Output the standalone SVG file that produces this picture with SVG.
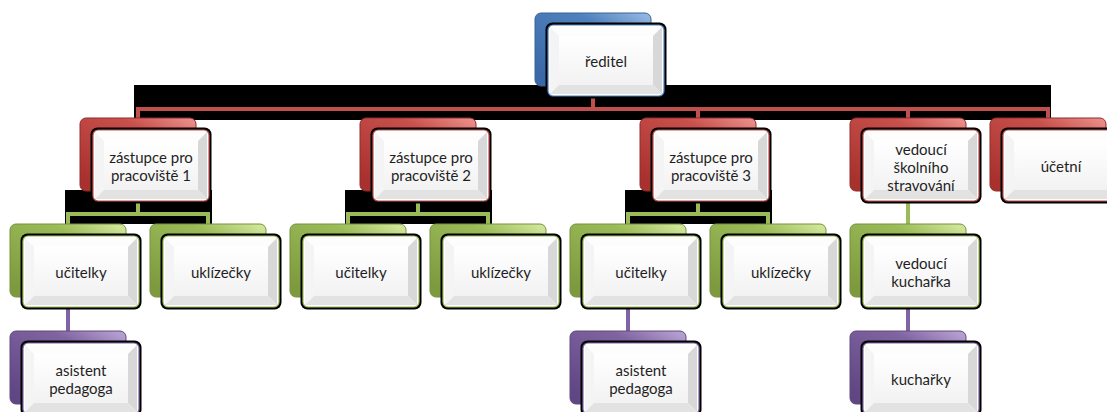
<svg xmlns="http://www.w3.org/2000/svg" xmlns:xlink="http://www.w3.org/1999/xlink" width="1107" height="412" viewBox="0 0 1107 412">
<style>
text{font-family:Lato,"Liberation Sans",sans-serif;font-size:15px;fill:#1f1f1f;text-anchor:middle}
.conn{fill:none;stroke-width:4;stroke-linejoin:miter}
.red-l{stroke:#c0504d}
.green-l{stroke:#9bbb59}
.purple-l{stroke:#8064a2}
.shade{fill:#000}
.back{stroke-width:1}
.b-blue{fill:url(#gBlue);stroke:#3a6296}
.b-red{fill:url(#gRed);stroke:#8f2e2b}
.b-green{fill:url(#gGreen);stroke:#76923c}
.b-purple{fill:url(#gPurple);stroke:#5f4a7a}
</style>
<defs>
<linearGradient id="gBlue" x1="0.1" y1="0.9" x2="0.9" y2="0"><stop offset="0" stop-color="#3a69a6"/><stop offset="0.7" stop-color="#4f81bd"/><stop offset="1" stop-color="#8fb4e0"/></linearGradient>
<linearGradient id="gRed" x1="0.1" y1="0.9" x2="0.9" y2="0"><stop offset="0" stop-color="#a8312e"/><stop offset="0.7" stop-color="#c8504c"/><stop offset="1" stop-color="#e88a86"/></linearGradient>
<linearGradient id="gGreen" x1="0.1" y1="0.9" x2="0.9" y2="0"><stop offset="0" stop-color="#7d9b3e"/><stop offset="0.7" stop-color="#9bbb59"/><stop offset="1" stop-color="#cfe498"/></linearGradient>
<linearGradient id="gPurple" x1="0.1" y1="0.9" x2="0.9" y2="0"><stop offset="0" stop-color="#604683"/><stop offset="0.7" stop-color="#8064a2"/><stop offset="1" stop-color="#b49ed0"/></linearGradient>
<linearGradient id="gFace" x1="0" y1="0" x2="0" y2="1"><stop offset="0" stop-color="#ffffff"/><stop offset="1" stop-color="#f2f2f2"/></linearGradient>
<g id="front">
<rect x="-1.5" y="-1.5" width="121" height="76" rx="7" fill="#000"/>
<rect x="1" y="1" width="116" height="71" rx="5" fill="#ffffff" stroke="currentColor" stroke-width="1.2"/>
<polygon points="3,3 115,3 106,12 12,12" fill="#fdfdfd"/>
<polygon points="3,3 12,12 12,61 3,70" fill="#f4f4f4"/>
<polygon points="115,3 115,70 106,61 106,12" fill="#d8d8d8"/>
<polygon points="3,70 12,61 106,61 115,70" fill="#e2e2e2"/>
<rect x="12" y="12" width="94" height="49" fill="url(#gFace)"/>
</g>
</defs>
<rect width="1107" height="412" fill="#ffffff"/>
<g id="connectors">
<rect class="shade" x="134" y="85" width="917" height="35"/>
<rect class="shade" x="65" y="190" width="147" height="34"/>
<rect class="shade" x="345" y="190" width="147" height="34"/>
<rect class="shade" x="625" y="190" width="147" height="34"/>
<path class="conn red-l" d="M593,96 V109 M138,118 V109 H1048 V118 M698,109 V118 M908,109 V118"/>
<path class="conn green-l" d="M68,224 V214 H208 V224 M138,200 V214 M348,224 V214 H488 V224 M418,200 V214 M628,224 V214 H768 V224 M698,200 V214 M908,200 V224"/>
<path class="conn purple-l" d="M68,306 V331 M628,306 V331 M908,306 V331"/>
</g>
<g id="n-reditel"><rect class="back b-blue" x="535" y="13" width="116" height="73" rx="6"/><use xlink:href="#front" x="547" y="24" color="#4f81bd"/><text x="606" y="66.5">ředitel</text></g>
<g id="n-zastupce1"><rect class="back b-red" x="80" y="118" width="116" height="73" rx="6"/><use xlink:href="#front" x="92" y="129" color="#c0504d"/><text x="151" y="162.5">zástupce pro</text><text x="151" y="180.5">pracoviště 1</text></g>
<g id="n-zastupce2"><rect class="back b-red" x="360" y="118" width="116" height="73" rx="6"/><use xlink:href="#front" x="372" y="129" color="#c0504d"/><text x="431" y="162.5">zástupce pro</text><text x="431" y="180.5">pracoviště 2</text></g>
<g id="n-zastupce3"><rect class="back b-red" x="640" y="118" width="116" height="73" rx="6"/><use xlink:href="#front" x="652" y="129" color="#c0504d"/><text x="711" y="162.5">zástupce pro</text><text x="711" y="180.5">pracoviště 3</text></g>
<g id="n-vedouci"><rect class="back b-red" x="850" y="118" width="116" height="73" rx="6"/><use xlink:href="#front" x="862" y="129" color="#c0504d"/><text x="921" y="154.5">vedoucí</text><text x="921" y="172.5">školního</text><text x="921" y="190.5">stravování</text></g>
<g id="n-ucetni"><rect class="back b-red" x="990" y="118" width="116" height="73" rx="6"/><use xlink:href="#front" x="1002" y="129" color="#c0504d"/><text x="1061" y="171.5">účetní</text></g>
<g id="n-ucitelky1"><rect class="back b-green" x="10" y="224" width="116" height="73" rx="6"/><use xlink:href="#front" x="22" y="235" color="#9bbb59"/><text x="81" y="277.5">učitelky</text></g>
<g id="n-uklizecky1"><rect class="back b-green" x="150" y="224" width="116" height="73" rx="6"/><use xlink:href="#front" x="162" y="235" color="#9bbb59"/><text x="221" y="277.5">uklízečky</text></g>
<g id="n-ucitelky2"><rect class="back b-green" x="290" y="224" width="116" height="73" rx="6"/><use xlink:href="#front" x="302" y="235" color="#9bbb59"/><text x="361" y="277.5">učitelky</text></g>
<g id="n-uklizecky2"><rect class="back b-green" x="430" y="224" width="116" height="73" rx="6"/><use xlink:href="#front" x="442" y="235" color="#9bbb59"/><text x="501" y="277.5">uklízečky</text></g>
<g id="n-ucitelky3"><rect class="back b-green" x="570" y="224" width="116" height="73" rx="6"/><use xlink:href="#front" x="582" y="235" color="#9bbb59"/><text x="641" y="277.5">učitelky</text></g>
<g id="n-uklizecky3"><rect class="back b-green" x="710" y="224" width="116" height="73" rx="6"/><use xlink:href="#front" x="722" y="235" color="#9bbb59"/><text x="781" y="277.5">uklízečky</text></g>
<g id="n-vedouci-kucharka"><rect class="back b-green" x="850" y="224" width="116" height="73" rx="6"/><use xlink:href="#front" x="862" y="235" color="#9bbb59"/><text x="921" y="268.5">vedoucí</text><text x="921" y="286.5">kuchařka</text></g>
<g id="n-asistent1"><rect class="back b-purple" x="10" y="331" width="116" height="73" rx="6"/><use xlink:href="#front" x="22" y="342" color="#8064a2"/><text x="81" y="375.5">asistent</text><text x="81" y="393.5">pedagoga</text></g>
<g id="n-asistent3"><rect class="back b-purple" x="570" y="331" width="116" height="73" rx="6"/><use xlink:href="#front" x="582" y="342" color="#8064a2"/><text x="641" y="375.5">asistent</text><text x="641" y="393.5">pedagoga</text></g>
<g id="n-kucharky"><rect class="back b-purple" x="850" y="331" width="116" height="73" rx="6"/><use xlink:href="#front" x="862" y="342" color="#8064a2"/><text x="921" y="384.5">kuchařky</text></g>
</svg>
